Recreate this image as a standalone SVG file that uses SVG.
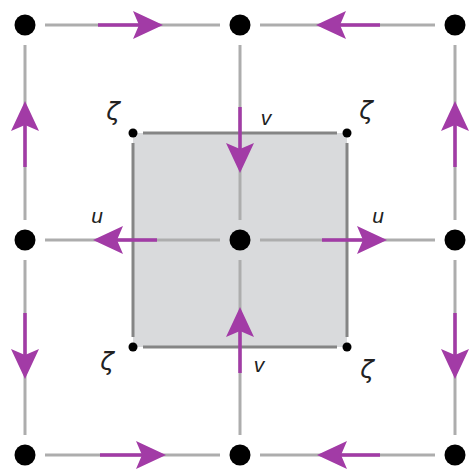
<svg xmlns="http://www.w3.org/2000/svg" width="471" height="469" viewBox="0 0 471 469">
<style>
.grid{stroke:#adadad;stroke-width:3;fill:none}
.cell{fill:#d9dadc;stroke:none}
.edge{stroke:#858585;stroke-width:3;fill:none}
.arr{stroke:#a23ba6;stroke-width:3.5;fill:none;marker-end:url(#ah)}
.big{fill:#000}
.small{fill:#000}
.lbl{font-family:"Liberation Sans","DejaVu Sans",sans-serif;font-style:italic;font-size:21px;fill:#222;text-anchor:middle}
.z{font-family:"DejaVu Sans","Liberation Sans",sans-serif;font-style:italic;font-size:25px;fill:#222;text-anchor:middle}
</style>
<defs>
<marker id="ah" viewBox="0 0 30 28" refX="24" refY="14" markerWidth="30" markerHeight="28" markerUnits="userSpaceOnUse" orient="auto">
<path d="M30,14 L0,0 L6,14 L0,28 Z" fill="#a23ba6"/>
</marker>
</defs>
<rect class="cell" x="133" y="133" width="214" height="214"/>
<g id="connectors">
<path class="grid" d="M45,25H220M260,25H435M45,240H220M260,240H435M45,455H220M260,455H435M25,45V220M25,260V435M240,45V220M240,260V435M455,45V220M455,260V435"/>
<path class="edge" d="M143,133H337M143,347H337M133,143V337M347,143V337"/>
<line class="arr" x1="98" y1="25" x2="157" y2="25"/>
<line class="arr" x1="380" y1="25" x2="322" y2="25"/>
<line class="arr" x1="157" y1="240" x2="99" y2="240"/>
<line class="arr" x1="322" y1="240" x2="381" y2="240"/>
<line class="arr" x1="100" y1="455" x2="160" y2="455"/>
<line class="arr" x1="380" y1="455" x2="323" y2="455"/>
<line class="arr" x1="25" y1="167" x2="25" y2="107"/>
<line class="arr" x1="25" y1="313" x2="25" y2="373"/>
<line class="arr" x1="240" y1="107" x2="240" y2="167"/>
<line class="arr" x1="240" y1="373" x2="240" y2="313"/>
<line class="arr" x1="455" y1="167" x2="455" y2="107"/>
<line class="arr" x1="455" y1="313" x2="455" y2="373"/>
</g>
<g id="n-tl"><circle class="big" cx="25" cy="25" r="10.5"/></g>
<g id="n-tm"><circle class="big" cx="240" cy="25" r="10.5"/></g>
<g id="n-tr"><circle class="big" cx="455" cy="25" r="10.5"/></g>
<g id="n-ml"><circle class="big" cx="25" cy="240" r="10.5"/></g>
<g id="n-mm"><circle class="big" cx="240" cy="240" r="10.5"/></g>
<g id="n-mr"><circle class="big" cx="455" cy="240" r="10.5"/></g>
<g id="n-bl"><circle class="big" cx="25" cy="455" r="10.5"/></g>
<g id="n-bm"><circle class="big" cx="240" cy="455" r="10.5"/></g>
<g id="n-br"><circle class="big" cx="455" cy="455" r="10.5"/></g>
<g id="z-tl"><circle class="small" cx="133" cy="133" r="4.5"/><text class="z" x="113" y="120">ζ</text></g>
<g id="z-tr"><circle class="small" cx="347" cy="133" r="4.5"/><text class="z" x="366" y="119">ζ</text></g>
<g id="z-bl"><circle class="small" cx="133" cy="347" r="4.5"/><text class="z" x="107" y="370">ζ</text></g>
<g id="z-br"><circle class="small" cx="347" cy="347" r="4.5"/><text class="z" x="367" y="378">ζ</text></g>
<g id="l-vt"><text class="lbl" x="266" y="125">v</text></g>
<g id="l-vb"><text class="lbl" x="259" y="372">v</text></g>
<g id="l-ul"><text class="lbl" x="97" y="223">u</text></g>
<g id="l-ur"><text class="lbl" x="378" y="223">u</text></g>
</svg>
